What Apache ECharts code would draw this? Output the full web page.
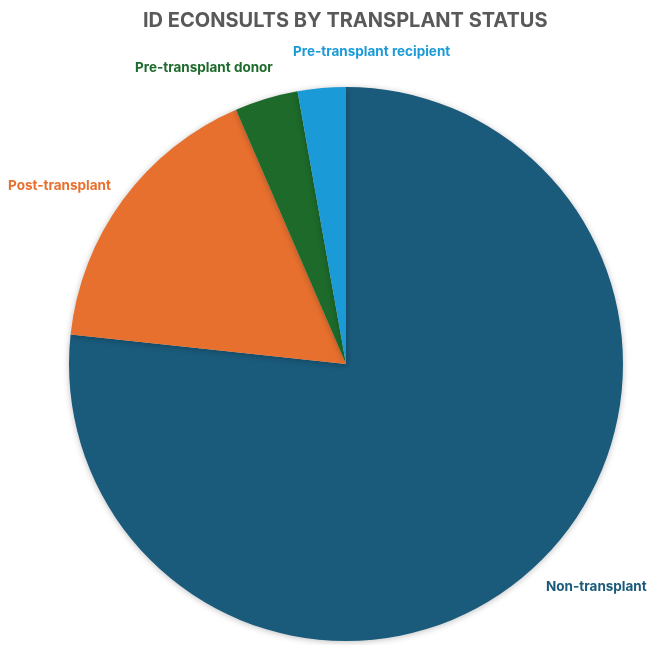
<!DOCTYPE html>
<html>
<head>
    <meta http-equiv="Content-Type" content="text/html; charset=utf-8" />
    <title>ID eConsults by transplant status</title>
    <style>
        html, body { margin: 0; padding: 0; background: #fff; }
        #main { width: 650px; height: 645px; }
    </style>
</head>
<body>
    <div id="main"></div>
    <script src="https://cdn.jsdelivr.net/npm/echarts@6/dist/echarts.min.js"></script>
    <script type="text/javascript">
        var categories = ['Non-transplant', 'Post-transplant', 'Pre-transplant donor', 'Pre-transplant recipient'];
        var values = [76.7, 16.8, 3.7, 2.8];
        var colors = ['#1a5a7b', '#e8702f', '#1d6a2b', '#1a9bd7'];
        // where each label sits (left edge, middle line)
        var labelSpots = [[546, 587], [8, 186], [135, 68], [293, 52]];

        var myChart = echarts.init(document.getElementById('main'));

        var option = {
            animation: false,
            title: {
                text: 'ID ECONSULTS BY TRANSPLANT STATUS',
                left: 138,
                top: 6,
                textStyle: {
                    fontFamily: 'Inter',
                    fontSize: 20,
                    fontWeight: 'bold',
                    color: '#595959'
                }
            },
            series: [{
                type: 'pie',
                center: [346, 364],
                radius: 277,
                startAngle: 90,
                clockwise: true,
                label: {
                    show: true,
                    position: 'outside',
                    overflow: 'none',
                    fontFamily: 'Inter',
                    fontSize: 13.5,
                    fontWeight: 'bold'
                },
                labelLine: { show: false },
                labelLayout: function (params) {
                    var p = labelSpots[params.dataIndex];
                    return { x: p[0], y: p[1], align: 'left', verticalAlign: 'middle' };
                },
                itemStyle: {
                    shadowBlur: 6,
                    shadowColor: 'rgba(0,0,0,0.25)',
                    shadowOffsetY: 1
                },
                data: categories.map(function (name, i) {
                    return {
                        name: name,
                        value: values[i],
                        itemStyle: { color: colors[i] },
                        label: { color: colors[i] }
                    };
                })
            }]
        };

        myChart.setOption(option);
    </script>
</body>
</html>
